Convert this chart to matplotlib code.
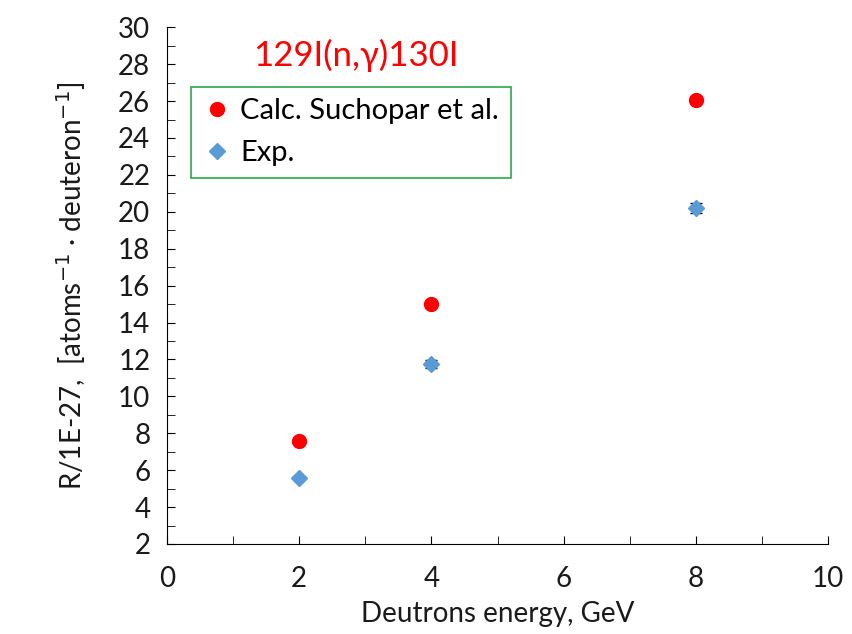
import matplotlib
matplotlib.use("Agg")
from matplotlib import pyplot as plt
from matplotlib.ticker import MultipleLocator
from matplotlib.lines import Line2D

energy = [2, 4, 8]
calc = [7.6, 15.0, 26.05]
exp = [5.6, 11.75, 20.2]
exp_err = [0.1, 0.2, 0.25]

plt.rcParams['font.family'] = ['Lato', 'DejaVu Sans']

fig = plt.figure(figsize=(8.52, 6.34), dpi=100)
ax = fig.add_axes([0.196, 0.142, 0.776, 0.815])

ax.plot(energy, calc, 'o', color='#ff0000', markersize=10)
ax.errorbar(energy, exp, yerr=exp_err, fmt='D', color='#5b9bd5', ecolor='black',
            elinewidth=1, capsize=4, markersize=8)

ax.set_xlim(0, 10)
ax.set_ylim(2, 30)
ax.xaxis.set_major_locator(MultipleLocator(2))
ax.xaxis.set_minor_locator(MultipleLocator(1))
ax.yaxis.set_major_locator(MultipleLocator(2))
ax.yaxis.set_minor_locator(MultipleLocator(1))
ax.tick_params(which='both', direction='in', labelsize=20, color='black',
               labelcolor='#1a1a1a', length=6)
ax.tick_params(axis='x', pad=16)
ax.tick_params(axis='y', pad=12)
for s in ['top', 'right']:
    ax.spines[s].set_visible(False)

ax.set_xlabel("Deutrons energy, GeV", fontsize=20, color='#1a1a1a', labelpad=6)
ax.set_ylabel("R/1E-27,  [atoms$^{-1}$ · deuteron$^{-1}$]", fontsize=20,
              color='#1a1a1a', labelpad=22)

ax.text(0.285, 0.945, "129I(n,γ)130I", transform=ax.transAxes, color='#ff0000',
        fontsize=25, ha='center', va='center')

handles = [Line2D([], [], marker='o', color='#ff0000', linestyle='none', markersize=10),
           Line2D([], [], marker='D', color='#5b9bd5', linestyle='none', markersize=8)]
leg = ax.legend(handles, ['Calc. Suchopar et al.', 'Exp.'], loc='upper left',
                bbox_to_anchor=(0.036, 0.885), fontsize=21, frameon=True,
                fancybox=False, handletextpad=0.3, borderpad=0.4,
                handlelength=1.0, labelspacing=0.55, borderaxespad=0,
                framealpha=1)
leg.get_frame().set_edgecolor('#2ca84a')
leg.get_frame().set_linewidth(1.2)

fig.savefig("out.png", dpi=100)
